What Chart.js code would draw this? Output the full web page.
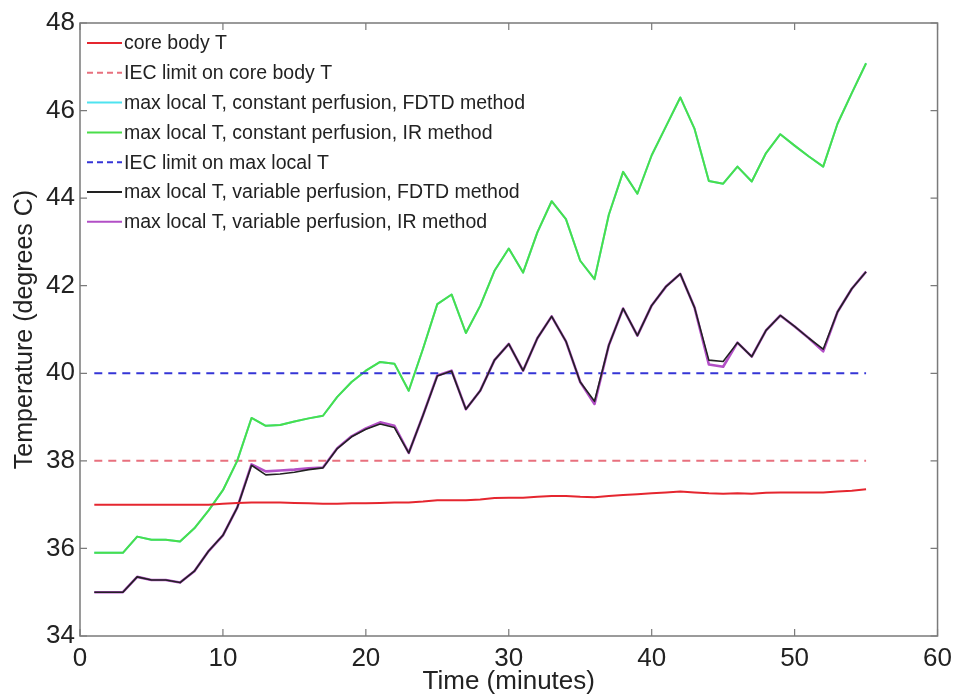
<!DOCTYPE html>
<html>
<head>
<meta charset="utf-8">
<script src="https://cdn.jsdelivr.net/npm/chart.js@4.4.1/dist/chart.umd.min.js"></script>
<style>
  html, body { margin: 0; padding: 0; background: #ffffff; }
  #wrap { width: 959px; height: 697px; position: relative; }
</style>
</head>
<body>
<div id="wrap"><canvas id="c" width="959" height="697"></canvas></div>
<script>
// ---- data ----
const minutes = [1,2,3,4,5,6,7,8,9,10,11,12,13,14,15,16,17,18,19,20,21,22,23,24,25,26,27,28,29,30,31,32,33,34,35,36,37,38,39,40,41,42,43,44,45,46,47,48,49,50,51,52,53,54,55];

const coreBodyT = [37.0,37.0,37.0,37.0,37.0,37.0,37.0,37.0,37.0,37.02,37.04,37.05,37.05,37.05,37.04,37.03,37.02,37.02,37.03,37.03,37.04,37.05,37.05,37.07,37.1,37.1,37.1,37.12,37.15,37.16,37.16,37.18,37.2,37.2,37.18,37.17,37.2,37.22,37.24,37.26,37.28,37.3,37.28,37.26,37.25,37.26,37.25,37.27,37.28,37.28,37.28,37.28,37.3,37.32,37.35];

const constFDTD = [35.9,35.9,35.9,36.27,36.2,36.2,36.16,36.46,36.87,37.33,38.0,38.98,38.8,38.82,38.9,38.97,39.03,39.46,39.8,40.06,40.26,40.22,39.6,40.56,41.58,41.8,40.92,41.54,42.34,42.85,42.3,43.22,43.93,43.52,42.57,42.15,43.62,44.6,44.1,44.98,45.64,46.3,45.58,44.39,44.33,44.72,44.38,45.03,45.46,45.2,44.95,44.72,45.7,46.4,47.08];

const constIR = [35.9,35.9,35.9,36.27,36.2,36.2,36.16,36.46,36.87,37.33,38.0,38.98,38.8,38.82,38.9,38.97,39.03,39.46,39.8,40.06,40.26,40.22,39.6,40.56,41.58,41.8,40.92,41.54,42.34,42.85,42.3,43.22,43.93,43.52,42.57,42.15,43.62,44.6,44.1,44.98,45.64,46.3,45.58,44.39,44.33,44.72,44.38,45.03,45.46,45.2,44.95,44.72,45.7,46.4,47.08];

const varFDTD = [35.0,35.0,35.0,35.35,35.28,35.28,35.22,35.48,35.94,36.3,36.93,37.9,37.68,37.7,37.74,37.8,37.84,38.28,38.55,38.72,38.84,38.76,38.18,39.04,39.94,40.05,39.18,39.6,40.3,40.67,40.06,40.8,41.3,40.73,39.8,39.36,40.64,41.48,40.86,41.55,41.98,42.27,41.5,40.3,40.27,40.7,40.38,40.98,41.32,41.07,40.8,40.55,41.4,41.93,42.32];

const varIR = [35.0,35.0,35.0,35.35,35.28,35.28,35.22,35.48,35.94,36.3,36.93,37.92,37.76,37.78,37.8,37.83,37.85,38.29,38.56,38.74,38.88,38.8,38.18,39.04,39.95,40.06,39.18,39.6,40.3,40.67,40.06,40.8,41.3,40.73,39.8,39.3,40.64,41.48,40.86,41.55,41.98,42.27,41.5,40.2,40.15,40.7,40.38,40.98,41.32,41.07,40.8,40.5,41.4,41.93,42.32];

const limitX = [1, 55];
const iecCoreLimit = [38, 38];
const iecLocalLimit = [40, 40];

const xTicks = [0,10,20,30,40,50,60];
const yTicks = [34,36,38,40,42,44,46,48];

const labels = [
  'core body T',
  'IEC limit on core body T',
  'max local T, constant perfusion, FDTD method',
  'max local T, constant perfusion, IR method',
  'IEC limit on max local T',
  'max local T, variable perfusion, FDTD method',
  'max local T, variable perfusion, IR method'
];

function pts(xs, ys) { return xs.map((x, i) => ({ x: x, y: ys[i] })); }

const FONT = '"Liberation Sans", Arial, sans-serif';

const datasets = [
  { label: labels[0], data: pts(minutes, coreBodyT), borderColor: '#e5262f', borderWidth: 2, order: 1 },
  { label: labels[1], data: pts(limitX, iecCoreLimit), borderColor: '#e8707e', borderWidth: 2, borderDash: [8, 6], order: 7 },
  { label: labels[2], data: pts(minutes, constFDTD), borderColor: '#4fe3f0', borderWidth: 2, order: 6 },
  { label: labels[3], data: pts(minutes, constIR), borderColor: '#4ade4a', borderWidth: 2, order: 5 },
  { label: labels[4], data: pts(limitX, iecLocalLimit), borderColor: '#3535d6', borderWidth: 2, borderDash: [8, 6], order: 4 },
  { label: labels[5], data: pts(minutes, varFDTD), borderColor: '#222222', borderWidth: 1.6, order: 2 },
  { label: labels[6], data: pts(minutes, varIR), borderColor: '#b24fc6', borderWidth: 2.6, order: 3 }
].map(d => Object.assign({ pointRadius: 0, fill: false, tension: 0, borderJoinStyle: 'round' }, d));

const framePlugin = {
  id: 'frame',
  afterDatasetsDraw(chart) {
    const ctx = chart.ctx, a = chart.chartArea;
    const xs = chart.scales.x, ys = chart.scales.y;
    ctx.save();
    ctx.strokeStyle = '#7a7a7a';
    ctx.lineWidth = 1.5;
    ctx.strokeRect(a.left, a.top, a.right - a.left, a.bottom - a.top);
    ctx.lineWidth = 1.2;
    const tl = 7;
    ctx.beginPath();
    xTicks.forEach(v => {
      const px = xs.getPixelForValue(v);
      ctx.moveTo(px, a.bottom); ctx.lineTo(px, a.bottom - tl);
      ctx.moveTo(px, a.top); ctx.lineTo(px, a.top + tl);
    });
    yTicks.forEach(v => {
      const py = ys.getPixelForValue(v);
      ctx.moveTo(a.left, py); ctx.lineTo(a.left + tl, py);
      ctx.moveTo(a.right, py); ctx.lineTo(a.right - tl, py);
    });
    ctx.stroke();
    ctx.restore();
  },
  afterDraw(chart) {
    // legend inside the axes, top-left
    const ctx = chart.ctx;
    const x0 = 87, x1 = 122, tx = 124, y0 = 43, dy = 29.8;
    ctx.save();
    ctx.font = '19.5px ' + FONT;
    ctx.textBaseline = 'middle';
    ctx.textAlign = 'left';
    chart.data.datasets.forEach((d, i) => {
      const y = y0 + i * dy;
      ctx.strokeStyle = d.borderColor;
      ctx.lineWidth = 2;
      ctx.setLineDash(d.borderDash ? [6, 4] : []);
      ctx.beginPath();
      ctx.moveTo(x0, y); ctx.lineTo(x1, y);
      ctx.stroke();
      ctx.setLineDash([]);
      ctx.fillStyle = '#222222';
      ctx.fillText(d.label, tx, y + 1);
    });
    ctx.restore();
  }
};

new Chart(document.getElementById('c'), {
  type: 'line',
  data: { datasets: datasets },
  options: {
    responsive: false,
    animation: false,
    devicePixelRatio: 1,
    layout: { padding: { top: 23, right: 19, left: 0, bottom: 0 } },
    plugins: { legend: { display: false }, tooltip: { enabled: false } },
    scales: {
      x: {
        type: 'linear', min: 0, max: 60,
        afterBuildTicks(s) { s.ticks = xTicks.map(v => ({ value: v })); },
        afterFit(s) { s.height = 61; },
        grid: { display: false, drawTicks: false },
        border: { display: false },
        ticks: { padding: 7, color: '#222222', font: { family: FONT, size: 26 }, maxRotation: 0 },
        title: { display: true, text: 'Time (minutes)', color: '#222222', font: { family: FONT, size: 26 }, padding: 0 }
      },
      y: {
        type: 'linear', min: 34, max: 48,
        afterBuildTicks(s) { s.ticks = yTicks.map(v => ({ value: v })); },
        afterFit(s) { s.width = 80; },
        grid: { display: false, drawTicks: false },
        border: { display: false },
        ticks: { padding: 5, color: '#222222', font: { family: FONT, size: 26 } },
        title: { display: true, text: 'Temperature (degrees C)', color: '#222222', font: { family: FONT, size: 25 }, padding: { top: 10, bottom: 0 } }
      }
    }
  },
  plugins: [framePlugin]
});
</script>
</body>
</html>
